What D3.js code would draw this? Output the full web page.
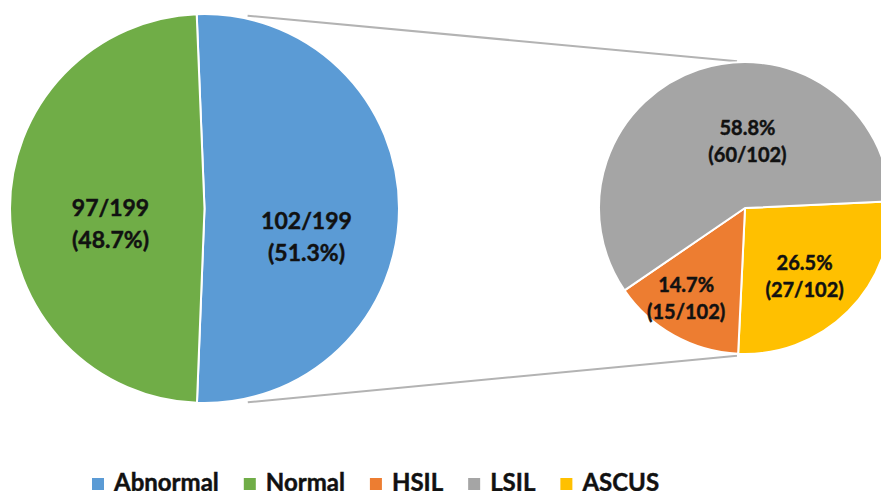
<!DOCTYPE html>
<html>
<head>
<meta charset="utf-8">
<script src="https://cdn.jsdelivr.net/npm/d3@7"></script>
<style>
  body { margin: 0; background: #fff; }
  svg { display: block; font-family: Lato, "Open Sans", sans-serif; font-weight: bold; }
  text { paint-order: stroke; stroke: #111; stroke-width: 0.45px; }
</style>
</head>
<body>
<div id="container"></div>
<script>
/* DATA */
const mainCats = ["Abnormal", "Normal"];
const mainCounts = [102, 97];
const subCats = ["ASCUS", "HSIL", "LSIL"];
const subCounts = [27, 15, 60];
const legendCats = ["Abnormal", "Normal", "HSIL", "LSIL", "ASCUS"];

/* CONSTANTS AND GLOBALS */
const width = 881;
const height = 491;
const deg = Math.PI / 180;

const mainPie = { cx: 204.5, cy: 208.5, r: 194.5, start: -2.3 * deg };
const subPie = { cx: 745, cy: 208, r: 146, start: 87.4 * deg };

// label nudges (dx, dy) from the centroid, same order as the category arrays
const mainNudge = [[2, 21], [6, 7]];
const subNudge = [[-4, -2], [-15, 5], [31, 12]];

const colorScale = d3.scaleOrdinal()
  .domain(legendCats)
  .range(["#5B9BD5", "#70AD47", "#ED7D31", "#A5A5A5", "#FFC000"]);

const pct = d3.format(".1%");

const svg = d3.select("#container")
  .append("svg")
  .attr("width", width)
  .attr("height", height);

svg.append("rect").attr("width", width).attr("height", height).attr("fill", "#fff");

/* CONNECTOR LINES */
const polar = (p, a, r) => [p.cx + r * Math.sin(a), p.cy - r * Math.cos(a)];
const connectors = [
  [polar(mainPie, 12.6 * deg, mainPie.r + 3), polar(subPie, -3.1 * deg, subPie.r + 1)],
  [polar(mainPie, 167.4 * deg, mainPie.r + 4), polar(subPie, 183.1 * deg, subPie.r + 2)]
];
svg.selectAll(".connector")
  .data(connectors)
  .join("line")
  .attr("class", "connector")
  .attr("x1", d => d[0][0]).attr("y1", d => d[0][1])
  .attr("x2", d => d[1][0]).attr("y2", d => d[1][1])
  .attr("stroke", "#b3b3b3")
  .attr("stroke-width", 2);

/* PIES */
function drawPie(p, cats, counts, nudge, fontSize, lineGap, labelR, labelFn) {
  const pie = d3.pie().sort(null).startAngle(p.start).endAngle(p.start + 2 * Math.PI);
  const arcs = pie(counts).map((a, i) => Object.assign(a, { cat: cats[i], count: counts[i] }));
  const arc = d3.arc().innerRadius(0).outerRadius(p.r);
  const labelArc = d3.arc().innerRadius(labelR).outerRadius(labelR);

  const g = svg.append("g").attr("transform", `translate(${p.cx},${p.cy})`);
  g.selectAll("path")
    .data(arcs)
    .join("path")
    .attr("d", arc)
    .attr("fill", d => colorScale(d.cat))
    .attr("stroke", "#fff")
    .attr("stroke-width", 2)
    .attr("stroke-linejoin", "round");

  const total = d3.sum(counts);
  const labels = g.selectAll(".lbl")
    .data(arcs)
    .join("text")
    .attr("class", "lbl")
    .attr("text-anchor", "middle")
    .attr("font-size", fontSize)
    .attr("fill", "#111")
    .attr("transform", (d, i) => {
      const c = labelArc.centroid(d);
      return `translate(${c[0] + nudge[i][0]},${c[1] + nudge[i][1]})`;
    });
  labels.each(function(d) {
    d3.select(this).selectAll("tspan")
      .data(labelFn(d.count, total))
      .join("tspan")
      .attr("x", 0)
      .attr("y", (t, j) => j * lineGap)
      .text(t => t);
  });
}

drawPie(mainPie, mainCats, mainCounts, mainNudge, 23, 32, 100,
  (c, t) => [`${c}/${t}`, `(${pct(c / t)})`]);
drawPie(subPie, subCats, subCounts, subNudge, 20, 27, 90,
  (c, t) => [pct(c / t), `(${c}/${t})`]);

/* LEGEND */
const legend = svg.append("g").attr("class", "legend");
let lx = 92;
legendCats.forEach(cat => {
  const item = legend.append("g");
  item.append("rect")
    .attr("x", lx).attr("y", 478)
    .attr("width", 12).attr("height", 12)
    .attr("fill", colorScale(cat));
  const t = item.append("text")
    .attr("x", lx + 22).attr("y", 491)
    .attr("font-size", 24)
    .attr("fill", "#111")
    .text(cat);
  lx += 22 + t.node().getComputedTextLength() + 25;
});
</script>
</body>
</html>
